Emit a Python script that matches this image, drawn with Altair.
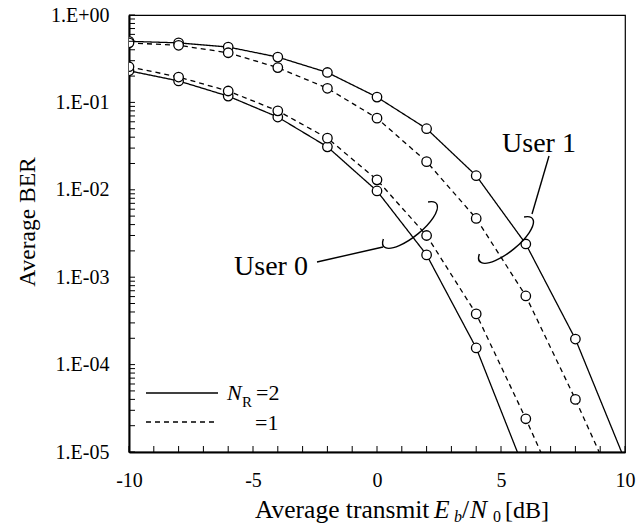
import altair as alt
import pandas as pd

# ---------------- data ----------------
ebn0 = [-10, -8, -6, -4, -2, 0, 2, 4, 6, 8, 10]
user1_nr2 = [0.50, 0.48, 0.43, 0.33, 0.22, 0.115, 0.050, 0.0145, 0.0024, 1.96e-4, 8.0e-6]
user1_nr1 = [0.48, 0.45, 0.37, 0.25, 0.145, 0.066, 0.021, 0.0047, 6.1e-4, 4.0e-5, 2.2e-6]
user0_nr2 = [0.23, 0.176, 0.118, 0.068, 0.031, 0.0097, 0.0018, 1.55e-4, 5.7e-6, None, None]
user0_nr1 = [0.256, 0.195, 0.135, 0.080, 0.039, 0.013, 0.0030, 3.8e-4, 2.4e-5, 1.3e-6, None]

y_tick_values = [1, 1e-1, 1e-2, 1e-3, 1e-4, 1e-5]
y_tick_labels = ["1.E+00", "1.E-01", "1.E-02", "1.E-03", "1.E-04", "1.E-05"]
x_tick_values = [-10, -5, 0, 5, 10]

rows = []
for user, nr, vals in [("User 1", "2", user1_nr2), ("User 1", "1", user1_nr1),
                       ("User 0", "2", user0_nr2), ("User 0", "1", user0_nr1)]:
    for xv, v in zip(ebn0, vals):
        if v is not None:
            rows.append({"x": xv, "ber": v, "user": user, "nr": nr, "series": user + nr})
df = pd.DataFrame(rows)

W, H = 496, 437
FONT = "Liberation Serif"

xscale = alt.Scale(domain=[-10, 10], nice=False, zero=False)
yscale = alt.Scale(type="log", domain=[1e-5, 1], nice=False)

label_expr = "[" + ",".join("'%s'" % s for s in y_tick_labels) + "][round(-log(datum.value)/LN10)]"

xaxis = alt.Axis(values=x_tick_values, title=None, ticks=False, tickSize=0,
                 labelPadding=18, labelFontSize=20, labelFont=FONT,
                 labelColor="black", domainColor="black", domainWidth=2,
                 grid=False, labelFlush=False, labelExpr="datum.value + ''")
yaxis = alt.Axis(values=y_tick_values, title=None, ticks=False, tickSize=0,
                 labelPadding=20, labelFontSize=20, labelFont=FONT,
                 labelColor="black", domainColor="black", domainWidth=2,
                 grid=False, labelExpr=label_expr, labelFlush=False)

base = alt.Chart(df)
lines = base.mark_line(clip=True, color="black", strokeWidth=1.3).encode(
    x=alt.X("x:Q", scale=xscale, axis=xaxis),
    y=alt.Y("ber:Q", scale=yscale, axis=yaxis),
    strokeDash=alt.StrokeDash("nr:N", scale=alt.Scale(domain=["2", "1"], range=[[1, 0], [5, 4]]),
                              legend=None),
    detail="series:N",
    order="x:Q",
)
points = base.mark_point(clip=True, shape="circle", size=90, filled=True, fill="white",
                         stroke="black", strokeWidth=1.3, opacity=1).encode(
    x=alt.X("x:Q", scale=xscale, axis=xaxis),
    y=alt.Y("ber:Q", scale=yscale, axis=yaxis),
)

# inward ticks on axes
minor_y = []
for d in range(5):
    for m in range(1, 10):
        minor_y.append(m * 10 ** (-(d + 1)))
minor_y.append(1.0)
ytick_df = pd.DataFrame({"ber": minor_y})
yticks = alt.Chart(ytick_df).mark_rule(color="black", strokeWidth=1).encode(
    y=alt.Y("ber:Q", scale=yscale, axis=yaxis), x=alt.value(0), x2=alt.value(6))
xtick_df = pd.DataFrame({"x": list(range(-10, 11))})
xticks = alt.Chart(xtick_df).mark_rule(color="black", strokeWidth=1).encode(
    x=alt.X("x:Q", scale=xscale, axis=xaxis), y=alt.value(H), y2=alt.value(H - 6))

one = pd.DataFrame({"a": [0]})


def txt(s, x, y, size=20, italic=False, align="left", angle=0):
    kw = dict(text=s, font=FONT, fontSize=size, color="black", align=align,
              baseline="alphabetic")
    if italic:
        kw["fontStyle"] = "italic"
    if angle:
        kw["angle"] = angle
    return alt.Chart(one).mark_text(**kw).encode(x=alt.value(x), y=alt.value(y))


def seg(x1, y1, x2, y2, dash=None):
    kw = dict(color="black", strokeWidth=1.4)
    if dash:
        kw["strokeDash"] = dash
    return alt.Chart(one).mark_rule(**kw).encode(
        x=alt.value(x1), y=alt.value(y1), x2=alt.value(x2), y2=alt.value(y2))


ELLIPSE = "M 0.839 -0.191 A 1 0.35 0 1 1 -0.866 -0.175"


def ellipse(x, y):
    return alt.Chart(one).mark_point(shape=ELLIPSE, size=4624, angle=321, filled=False,
                                     stroke="black", strokeWidth=1.4, opacity=1).encode(
        x=alt.value(x), y=alt.value(y))


annotations = [
    # axis titles
    txt("Average BER", -94, 207, size=23.5, align="center", angle=270),
    txt("Average transmit", 126, 503, size=25.5),
    txt("E", 305, 503, size=25.5, italic=True),
    txt("b", 325, 507, size=16, italic=True),
    txt("/", 333, 503, size=25.5),
    txt("N", 341, 503, size=25.5, italic=True),
    txt("0", 364, 507, size=16),
    txt("[dB]", 376, 503, size=24),
    # user labels
    txt("User 1", 410, 137, size=28, align="center"),
    txt("User 0", 142, 260, size=28, align="center"),
    seg(420, 141, 403, 199),
    seg(188, 247, 254, 232),
    ellipse(281, 210),
    ellipse(377, 225),
    # legend
    seg(17, 378, 89, 378),
    seg(17, 407, 89, 407, dash=[5, 4]),
    txt("N", 98, 385, size=22, italic=True),
    txt("R", 113, 392, size=15),
    txt("=2", 127, 385, size=22),
    txt("=1", 126, 415, size=22),
]

chart = alt.layer(lines, points, yticks, xticks, *annotations).properties(
    width=W, height=H,
    autosize=alt.AutoSizeParams(type="none"),
    padding={"left": 129, "top": 15, "right": 16, "bottom": 78},
    background="white",
).configure(font=FONT).configure_view(stroke="black", strokeWidth=1.2)

chart.save("out.html", embed_options={"renderer": "svg", "actions": False})
